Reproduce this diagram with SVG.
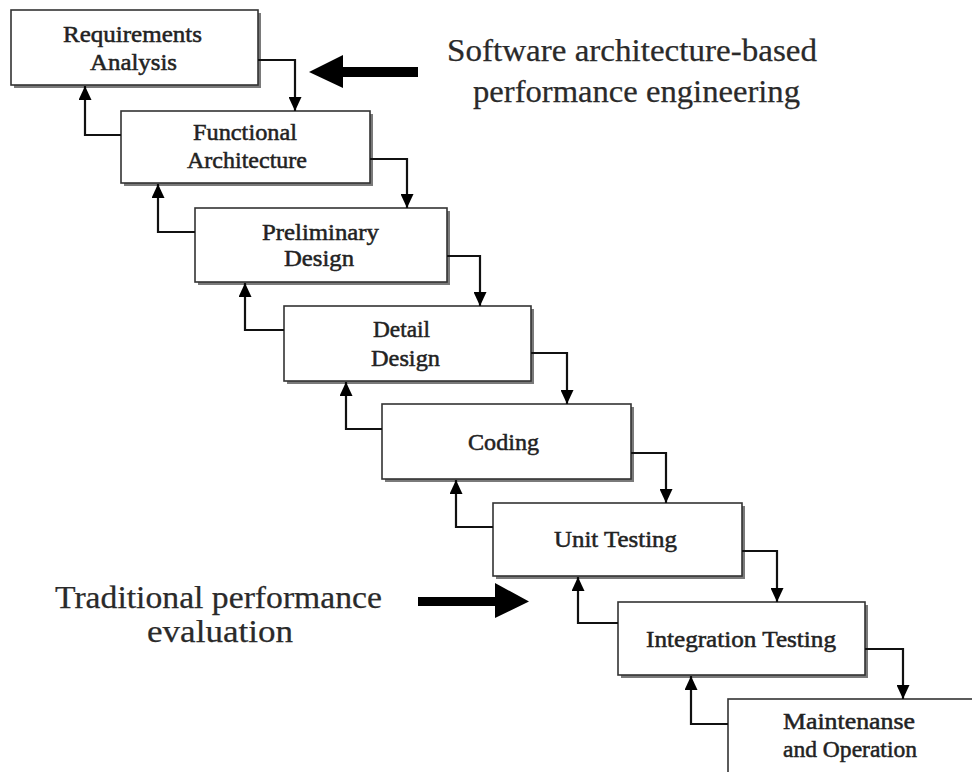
<svg xmlns="http://www.w3.org/2000/svg" width="972" height="772" viewBox="0 0 972 772">
  <style>
    .shadow { fill: #7a7a7a; }
    .box { fill: #ffffff; stroke: #333333; stroke-width: 1.6; }
    .lbl { font-family: 'Liberation Serif', 'Times New Roman', Tinos, serif; font-size: 23px; fill: #222222; stroke: #222222; stroke-width: 0.5; }
    .big { font-family: 'Liberation Serif', 'Times New Roman', Tinos, serif; font-size: 31px; fill: #2a2a2a; stroke: #2a2a2a; stroke-width: 0.25; }
    .link { fill: none; stroke: #111111; stroke-width: 2.2; marker-end: url(#head); }
    .fat { fill: #000000; }
  </style>
  <defs>
    <marker id="head" markerUnits="userSpaceOnUse" markerWidth="14" markerHeight="13" refX="14" refY="6.5" orient="auto">
      <path d="M0,0 L14,6.5 L0,13 z" fill="#000000"/>
    </marker>
  </defs>
  <rect width="972" height="772" fill="#ffffff"/>

  <!-- process stages -->
  <g id="requirements-analysis">
    <rect class="shadow" x="14" y="13" width="247" height="75"/>
    <rect class="box" x="11" y="10" width="247" height="75"/>
    <text class="lbl" x="63" y="42" textLength="139" lengthAdjust="spacingAndGlyphs">Requirements</text>
    <text class="lbl" x="90" y="70" textLength="87" lengthAdjust="spacingAndGlyphs">Analysis</text>
  </g>
  <g id="functional-architecture">
    <rect class="shadow" x="124" y="114" width="249" height="72"/>
    <rect class="box" x="121" y="111" width="249" height="72"/>
    <text class="lbl" x="193" y="140" textLength="104" lengthAdjust="spacingAndGlyphs">Functional</text>
    <text class="lbl" x="187" y="168" textLength="120" lengthAdjust="spacingAndGlyphs">Architecture</text>
  </g>
  <g id="preliminary-design">
    <rect class="shadow" x="198" y="211" width="252" height="74"/>
    <rect class="box" x="195" y="208" width="252" height="74"/>
    <text class="lbl" x="262" y="240" textLength="117" lengthAdjust="spacingAndGlyphs">Preliminary</text>
    <text class="lbl" x="284" y="266" textLength="70" lengthAdjust="spacingAndGlyphs">Design</text>
  </g>
  <g id="detail-design">
    <rect class="shadow" x="287" y="309" width="247" height="75"/>
    <rect class="box" x="284" y="306" width="247" height="75"/>
    <text class="lbl" x="373" y="337" textLength="57" lengthAdjust="spacingAndGlyphs">Detail</text>
    <text class="lbl" x="371" y="366" textLength="69" lengthAdjust="spacingAndGlyphs">Design</text>
  </g>
  <g id="coding">
    <rect class="shadow" x="385" y="407" width="249" height="75"/>
    <rect class="box" x="382" y="404" width="249" height="75"/>
    <text class="lbl" x="468" y="450" textLength="71" lengthAdjust="spacingAndGlyphs">Coding</text>
  </g>
  <g id="unit-testing">
    <rect class="shadow" x="496" y="506" width="249" height="73"/>
    <rect class="box" x="493" y="503" width="249" height="73"/>
    <text class="lbl" x="554" y="547" textLength="123" lengthAdjust="spacingAndGlyphs">Unit Testing</text>
  </g>
  <g id="integration-testing">
    <rect class="shadow" x="621" y="605" width="247" height="73"/>
    <rect class="box" x="618" y="602" width="247" height="73"/>
    <text class="lbl" x="646" y="647" textLength="190" lengthAdjust="spacingAndGlyphs">Integration Testing</text>
  </g>
  <g id="maintenance-operation">
    <rect class="shadow" x="731" y="702" width="250" height="80"/>
    <rect class="box" x="728" y="699" width="250" height="80"/>
    <text class="lbl" x="783" y="729" textLength="132" lengthAdjust="spacingAndGlyphs">Maintenanse</text>
    <text class="lbl" x="783" y="757" textLength="134" lengthAdjust="spacingAndGlyphs">and Operation</text>
  </g>

  <!-- flow between stages: forward (down) and feedback (up) -->
  <g id="connectors">
    <path class="link" d="M258,60 H295 V111"/>
    <path class="link" d="M370,159 H407 V208"/>
    <path class="link" d="M447,256 H480 V306"/>
    <path class="link" d="M531,353 H567 V404"/>
    <path class="link" d="M631,453 H666 V503"/>
    <path class="link" d="M742,551 H777 V602"/>
    <path class="link" d="M865,649 H903 V699"/>

    <path class="link" d="M121,135 H85 V86"/>
    <path class="link" d="M195,232 H158 V184"/>
    <path class="link" d="M284,330 H245 V283"/>
    <path class="link" d="M382,429 H346 V382"/>
    <path class="link" d="M493,527 H456 V480"/>
    <path class="link" d="M618,623 H578 V577"/>
    <path class="link" d="M728,724 H691 V676"/>
  </g>

  <!-- annotations -->
  <g id="sa-note">
    <polygon class="fat" points="309,72 343,55 343,67 418,67 418,77 343,77 343,88"/>
    <text class="big" x="447" y="61" textLength="370" lengthAdjust="spacingAndGlyphs">Software architecture-based</text>
    <text class="big" x="473" y="102" textLength="327" lengthAdjust="spacingAndGlyphs">performance engineering</text>
  </g>
  <g id="traditional-note">
    <polygon class="fat" points="529,601.5 495,583 495,597 418,597 418,606 495,606 495,618"/>
    <text class="big" x="55" y="608" textLength="327" lengthAdjust="spacingAndGlyphs">Traditional performance</text>
    <text class="big" x="147" y="642" textLength="146" lengthAdjust="spacingAndGlyphs">evaluation</text>
  </g>
</svg>
